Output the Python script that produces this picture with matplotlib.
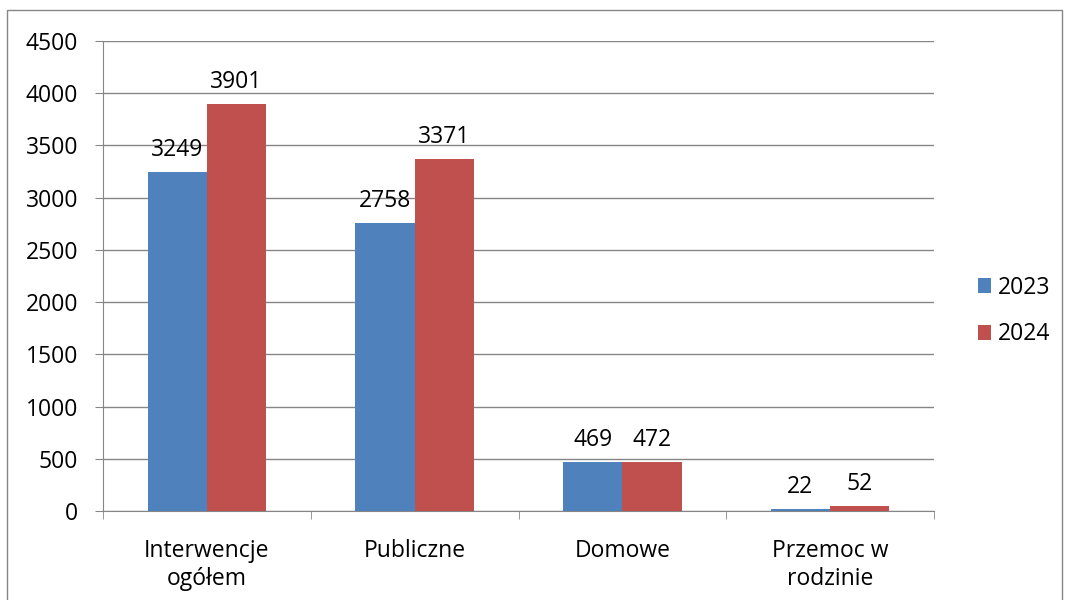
import matplotlib.pyplot as plt
import numpy as np
from matplotlib.patches import Rectangle

categories = ['Interwencje\nogółem', 'Publiczne', 'Domowe', 'Przemoc w\nrodzinie']
years = ['2023', '2024']
values_2023 = [3249, 2758, 469, 22]
values_2024 = [3901, 3371, 472, 52]
colors = ['#4F81BD', '#C0504D']

plt.rcParams['font.family'] = ['Open Sans', 'DejaVu Sans']
FS = 16.5

fig = plt.figure(figsize=(10.67, 6), dpi=100)
ax = fig.add_axes([103 / 1067, 1 - 511 / 600, (934 - 103) / 1067, (511 - 41) / 600])

# outer chart border
fig.patches.append(Rectangle((7 / 1067, -0.02), (1062 - 7) / 1067, 1.02 - 10 / 600,
                             transform=fig.transFigure, fill=False,
                             edgecolor='#868686', linewidth=1))

x = np.arange(len(categories))
width = 1 / 3.5
series = [values_2023, values_2024]
for i, (vals, lab, col) in enumerate(zip(series, years, colors)):
    pos = x + (i - 0.5) * width
    bars = ax.bar(pos, vals, width, color=col, label=lab, zorder=3)
    for b, v in zip(bars, vals):
        ax.annotate(str(v), (b.get_x() + b.get_width() / 2, v),
                    xytext=(0, 7), textcoords='offset points',
                    ha='center', va='bottom', fontsize=FS, zorder=4)

ax.set_xlim(-0.5, len(categories) - 0.5)
ax.set_ylim(0, 4500)
ax.set_yticks(np.arange(0, 4501, 500))
ax.yaxis.grid(True, color='#868686', linewidth=1, zorder=0)
ax.set_axisbelow(True)

ax.set_xticks(x)
ax.set_xticklabels(categories, fontsize=FS, linespacing=1.25)
ax.set_xticks(np.arange(-0.5, len(categories)), minor=True)
ax.tick_params(axis='x', which='major', length=0, pad=20)
ax.tick_params(axis='x', which='minor', length=6, color='#868686', direction='out')
ax.tick_params(axis='y', length=6, color='#868686', pad=12, labelsize=FS)

for s in ['top', 'right']:
    ax.spines[s].set_visible(False)
for s in ['left', 'bottom']:
    ax.spines[s].set_color('#868686')

ax.legend(loc='center left', bbox_to_anchor=(957 / 1067, 1 - 311 / 600),
          bbox_transform=fig.transFigure, frameon=False, fontsize=FS,
          handlelength=0.6, handleheight=0.6, handletextpad=0.3,
          labelspacing=1.0)

plt.savefig('out.png', dpi=100)
plt.close()
